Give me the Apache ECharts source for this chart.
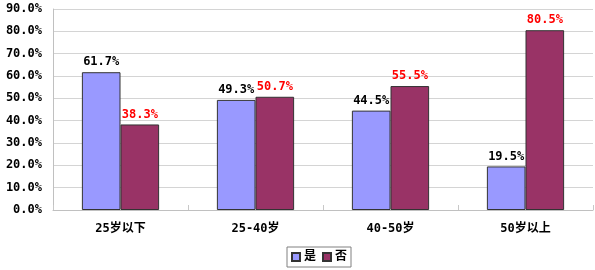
<!DOCTYPE html>
<html><head><meta charset="utf-8">
<script src="https://cdn.jsdelivr.net/npm/echarts@6/dist/echarts.min.js"></script>
<style>html,body{margin:0;padding:0;background:#fff}#c{width:595px;height:270px}</style>
</head><body><div id="c"></div>
<script>
const categories = ['25岁以下', '25-40岁', '40-50岁', '50岁以上'];
const yesValues = [61.7, 49.3, 44.5, 19.5];
const noValues = [38.3, 50.7, 55.5, 80.5];
const seriesNames = ['是', '否'];
const FONT = '"DejaVu Sans Mono", "Noto Sans CJK SC", monospace';
const chart = echarts.init(document.getElementById('c'), null, {renderer: 'canvas'});
chart.setOption({
  animation: false,
  backgroundColor: '#fff',
  grid: {left: 53, right: 2, top: 9, bottom: 60, containLabel: false},
  legend: {
    data: seriesNames, left: 287, top: 247, itemWidth: 8, itemHeight: 8, itemGap: 6,
    borderColor: '#808080', borderWidth: 1, padding: [4, 4, 4, 4],
    textStyle: {fontFamily: FONT, fontSize: 12, fontWeight: 'bold', color: '#000', padding: [0, 0, 0, -1]},
    icon: 'rect'
  },
  xAxis: {
    type: 'category', data: categories,
    axisLine: {lineStyle: {color: '#c0c0c0', width: 1}},
    axisTick: {show: true, inside: true, length: 5, lineStyle: {color: '#c8c8c8'}},
    axisLabel: {margin: 13, fontFamily: FONT, fontSize: 12, fontWeight: 'bold', color: '#000'}
  },
  yAxis: {
    type: 'value', min: 0, max: 90, interval: 10,
    axisLine: {show: true, lineStyle: {color: '#c0c0c0'}},
    axisTick: {show: false},
    splitLine: {lineStyle: {color: '#d4d4d4', width: 1}},
    axisLabel: {margin: 11, fontFamily: FONT, fontSize: 12, fontWeight: 'bold', color: '#000',
      formatter: v => v.toFixed(1) + '%'}
  },
  series: [
    {name: seriesNames[0], type: 'bar', data: yesValues, barWidth: '28.6%', barGap: '0%',
     itemStyle: {color: '#9999FF', borderColor: '#333', borderWidth: 1},
     label: {show: true, position: 'top', distance: 4, fontFamily: FONT, fontSize: 12, fontWeight: 'bold', color: '#000',
       formatter: p => p.value.toFixed(1) + '%'}},
    {name: seriesNames[1], type: 'bar', data: noValues, barWidth: '28.6%', barGap: '0%',
     itemStyle: {color: '#993366', borderColor: '#333', borderWidth: 1},
     label: {show: true, position: 'top', distance: 4, fontFamily: FONT, fontSize: 12, fontWeight: 'bold', color: '#ff0000',
       formatter: p => p.value.toFixed(1) + '%'}}
  ]
});
</script></body></html>
